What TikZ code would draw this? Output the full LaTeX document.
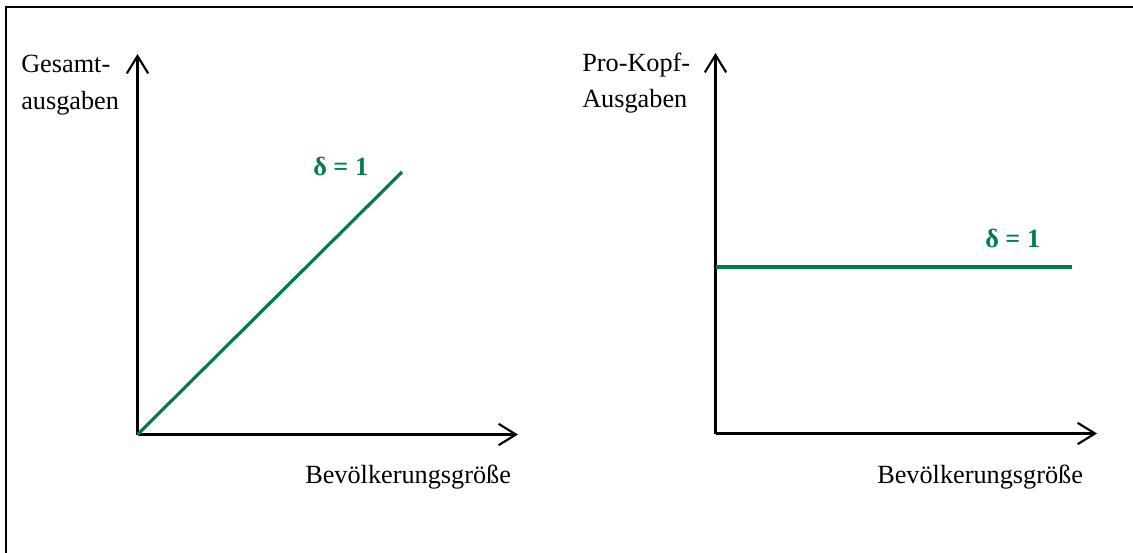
\documentclass[tikz,border=0pt]{standalone}
\usepackage{fontspec}
\setmainfont{Liberation Serif}
\usetikzlibrary{arrows.meta}
\definecolor{dgreen}{RGB}{0,125,75}
\begin{document}
\begin{tikzpicture}[x=0.75pt,y=-0.75pt,
  axis/.style={line width=1.6pt, -{Straight Barb[length=13pt,width=16pt,line width=1.6pt]}},
  curve/.style={line width=2.4pt, dgreen},
  lbl/.style={anchor=base west, inner sep=0pt, font=\fontsize{19.7}{23}\selectfont},
  dlbl/.style={anchor=base west, inner sep=0pt, text=dgreen, font=\fontsize{19.7}{23}\selectfont\bfseries}]
\useasboundingbox (0,0) rectangle (1133,553);
% frame
\draw[line width=1.5pt] (6,6.5) -- (1133,6.5);
\draw[line width=1pt] (6,6) -- (6,553);
% left chart
\coordinate (o1) at (137.5,434.5);
\coordinate (y1) at (137.5,54);
\coordinate (x1) at (518,434.5);
\coordinate (e1) at (402,172);
\draw[axis] (o1) -- (y1);
\draw[axis] (o1) -- (x1);
\draw[curve] (o1) -- (e1);
\node[lbl] (g1) at (21,72) {Gesamt-};
\node[lbl] (g2) at (21,109) {ausgaben};
\node[lbl] (b1) at (305,483) {Bevölkerungsgröße};
\node[dlbl] (d1) at (313,175) {δ = 1};
% right chart
\coordinate (o2) at (715.5,433.5);
\coordinate (y2) at (715.5,53);
\coordinate (x2) at (1097,433.5);
\coordinate (s2) at (715.5,267);
\coordinate (e2) at (1072,267);
\draw[axis] (o2) -- (y2);
\draw[axis] (o2) -- (x2);
\draw[curve] (s2) -- (e2);
\node[lbl] (p1) at (582,71) {Pro-Kopf-};
\node[lbl] (p2) at (582,107) {Ausgaben};
\node[lbl] (b2) at (877,483) {Bevölkerungsgröße};
\node[dlbl] (d2) at (985,247) {δ = 1};
\end{tikzpicture}
\end{document}
